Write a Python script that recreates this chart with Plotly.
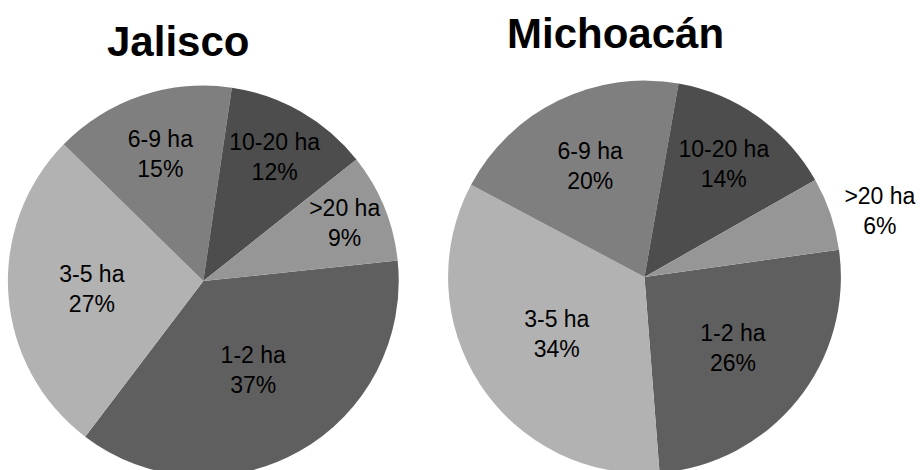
import plotly.graph_objects as go

categories = ["1-2 ha", "3-5 ha", "6-9 ha", "10-20 ha", ">20 ha"]
jalisco_values = [37, 27, 15, 12, 9]
michoacan_values = [26, 34, 20, 14, 6]
titles = ["Jalisco", "Michoacán"]
slice_colors = ["#5f5f5f", "#b2b2b2", "#7f7f7f", "#4d4d4d", "#969696"]

W, H = 920, 490

def dom(cx, cy, r):
    return dict(x=[(cx - r) / W, (cx + r) / W],
                y=[(H - (cy + r)) / H, (H - (cy - r)) / H])

fig = go.Figure()
fig.add_trace(go.Pie(
    labels=categories, values=jalisco_values, sort=False, direction="clockwise",
    rotation=84, marker=dict(colors=slice_colors, line=dict(width=0)),
    textinfo="label+percent", textposition="inside",
    insidetextorientation="horizontal",
    textfont=dict(family="Liberation Sans, Arial", size=23, color="black"),
    domain=dom(206, 281, 198), showlegend=False, hoverinfo="label+percent",
))
fig.add_trace(go.Pie(
    labels=categories, values=michoacan_values, sort=False, direction="clockwise",
    rotation=82, marker=dict(colors=slice_colors, line=dict(width=0)),
    textinfo="label+percent",
    textposition=["inside", "inside", "inside", "inside", "outside"],
    insidetextorientation="horizontal",
    textfont=dict(family="Liberation Sans, Arial", size=23, color="black"),
    domain=dom(653, 277, 199), showlegend=False, hoverinfo="label+percent",
))

fig.add_annotation(text="<b>" + titles[0] + "</b>", x=180 / W, y=1 - 41 / H,
                   xref="paper", yref="paper", xanchor="center", yanchor="middle",
                   showarrow=False, font=dict(family="Liberation Sans, Arial", size=42, color="black"))
fig.add_annotation(text="<b>" + titles[1] + "</b>", x=624 / W, y=1 - 34 / H,
                   xref="paper", yref="paper", xanchor="center", yanchor="middle",
                   showarrow=False, font=dict(family="Liberation Sans, Arial", size=42, color="black"))

fig.update_layout(
    width=W, height=H, margin=dict(l=0, r=0, t=0, b=0),
    paper_bgcolor="white", plot_bgcolor="white",
    uniformtext=dict(minsize=23, mode="show"),
)
fig.write_html("out.html")
